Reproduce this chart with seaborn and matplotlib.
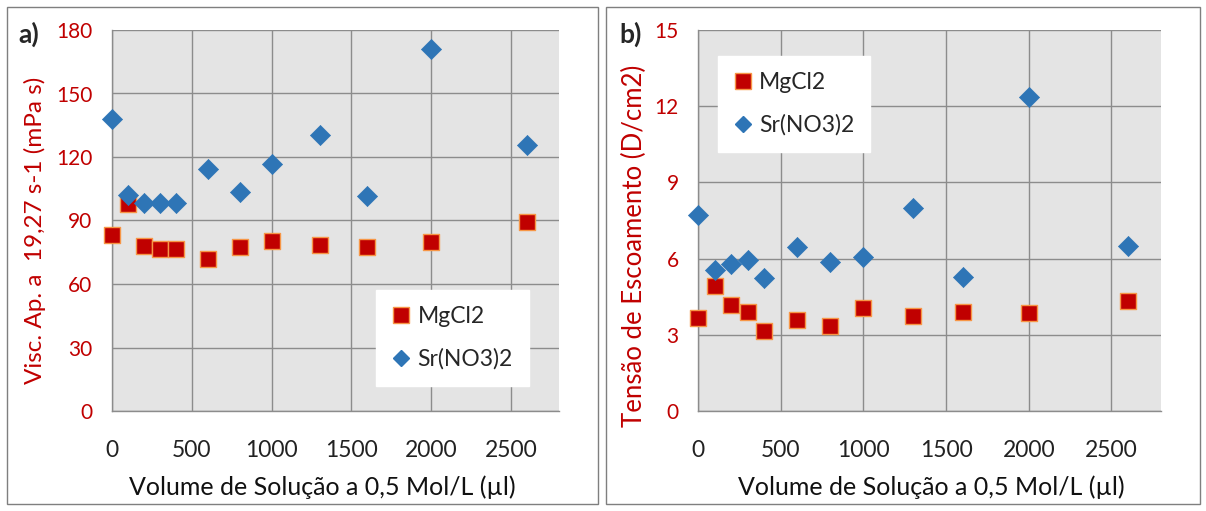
import matplotlib
matplotlib.use("Agg")
import matplotlib.pyplot as plt
import matplotlib.patches as mpatches
from matplotlib.lines import Line2D
from matplotlib.ticker import MultipleLocator
import seaborn as sns
import pandas as pd

# volume of 0.5 mol/L solution (ul)
volume = [0, 100, 200, 300, 400, 600, 800, 1000, 1300, 1600, 2000, 2600]

# a) apparent viscosity at 19,27 s-1 (mPa s)
visc_mgcl2 = [83.1, 97.8, 78.1, 76.4, 76.4, 71.7, 77.3, 80.2, 78.3, 77.3, 79.7, 89.1]
visc_srno3 = [137.8, 102.0, 98.4, 98.4, 98.4, 114.2, 103.3, 116.7, 130.4, 101.6, 171.0, 125.6]

# b) yield stress (D/cm2)
tens_mgcl2 = [3.65, 4.92, 4.17, 3.91, 3.15, 3.58, 3.35, 4.07, 3.75, 3.91, 3.87, 4.34]
tens_srno3 = [7.70, 5.55, 5.79, 5.94, 5.22, 6.46, 5.87, 6.07, 8.00, 5.26, 12.37, 6.50]

series = ["MgCl2", "Sr(NO3)2"]

RED = "#C00000"
EDGE = "#F79646"
BLUE = "#2E75B6"
GRID = "#8C8C8C"
BG = "#E4E4E4"


def make_df(mg, sr):
    return pd.DataFrame({
        "Volume": volume * 2,
        "Valor": mg + sr,
        "Sal": [series[0]] * len(volume) + [series[1]] * len(volume),
    })


def draw_panel(ax, df, ymax, ystep, ylabel, ylabel_size):
    ax.set_facecolor(BG)
    sns.scatterplot(data=df[df["Sal"] == series[0]], x="Volume", y="Valor",
                    marker="s", s=125, color=RED, edgecolor=EDGE, linewidth=1.0,
                    ax=ax, legend=False, zorder=3, clip_on=False)
    sns.scatterplot(data=df[df["Sal"] == series[1]], x="Volume", y="Valor",
                    marker="D", s=105, color=BLUE, edgecolor=BLUE, linewidth=0.5,
                    ax=ax, legend=False, zorder=4, clip_on=False)
    ax.set_xlim(0, 2800)
    ax.set_ylim(0, ymax)
    ax.xaxis.set_major_locator(MultipleLocator(500))
    ax.xaxis.set_minor_locator(MultipleLocator(100))
    ax.yaxis.set_major_locator(MultipleLocator(ystep))
    ax.grid(True, which="major", color=GRID, linewidth=1.0)
    ax.set_axisbelow(True)
    for side in ["top", "right"]:
        ax.spines[side].set_visible(False)
    for side in ["left", "bottom"]:
        ax.spines[side].set_color(GRID)
        ax.spines[side].set_linewidth(1.0)
    ax.tick_params(axis="x", which="major", direction="out", length=7, color=GRID,
                   labelsize=16.5, labelcolor="#222222", pad=14)
    ax.tick_params(axis="x", which="minor", direction="out", length=5, color=GRID)
    ax.tick_params(axis="y", which="major", length=0, labelsize=15, labelcolor=RED, pad=14)
    ax.set_xlabel("Volume de Solução a 0,5 Mol/L (µl)", fontsize=18, color="#111111")
    ax.set_ylabel(ylabel, fontsize=ylabel_size, color=RED)


sns.set_style("white")
plt.rcParams["font.family"] = ["Lato", "DejaVu Sans"]

fig = plt.figure(figsize=(12.06, 5.11), dpi=100)
W, H = 1206, 511

# panel frames
for x0, x1 in [(7, 598), (606, 1200)]:
    fig.patches.append(mpatches.Rectangle((x0 / W, 7 / H), (x1 - x0) / W, (504 - 7) / H,
                                          transform=fig.transFigure, fill=False,
                                          edgecolor="#7F7F7F", linewidth=1.0))

ax1 = fig.add_axes([112 / W, 100 / H, 447 / W, 381 / H])
ax2 = fig.add_axes([698 / W, 100 / H, 463 / W, 381 / H])

draw_panel(ax1, make_df(visc_mgcl2, visc_srno3), 180, 30, "Visc. Ap. a  19,27 s-1 (mPa s)", 17.5)
draw_panel(ax2, make_df(tens_mgcl2, tens_srno3), 15, 3, "Tensão de Escoamento (D/cm2)", 18.5)
ax1.yaxis.set_label_coords(-66 / 447, 0.475)
ax2.yaxis.set_label_coords(-51 / 463, 0.433)
ax1.xaxis.set_label_coords(0.47, -0.17)
ax2.xaxis.set_label_coords(0.503, -0.17)

handles = [
    Line2D([], [], linestyle="none", marker="s", markersize=11.5, markerfacecolor=RED,
           markeredgecolor=EDGE, label=series[0]),
    Line2D([], [], linestyle="none", marker="D", markersize=8, markerfacecolor=BLUE,
           markeredgecolor=BLUE, label=series[1]),
]
for loc in [(380 / W, (511 - 389) / H, 145 / W, 102 / H),
            (721 / W, (511 - 157) / H, 146 / W, 106 / H)]:
    leg = fig.legend(handles=handles, loc="center", bbox_to_anchor=loc, fontsize=16.5,
                     frameon=True, fancybox=False, framealpha=1, edgecolor="white",
                     handlelength=0.8, handletextpad=0.3, labelspacing=0.9,
                     borderpad=0.7)
    leg.get_frame().set_facecolor("white")

fig.text(18 / W, 1 - 34 / H, "a)", fontsize=19, fontweight="bold", va="center", ha="left")
fig.text(619 / W, 1 - 34 / H, "b)", fontsize=19, fontweight="bold", va="center", ha="left")

fig.savefig("out.png", dpi=100)
